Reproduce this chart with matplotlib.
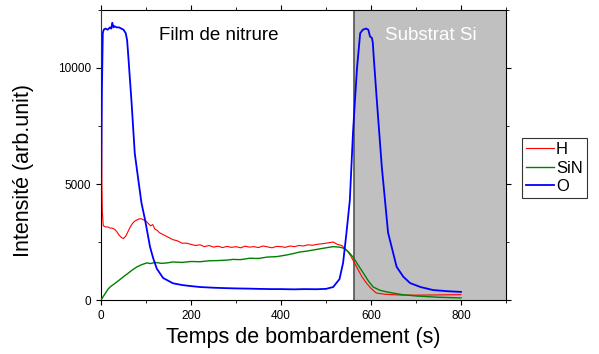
import matplotlib
matplotlib.use("Agg")
import matplotlib.pyplot as plt
from matplotlib.ticker import MultipleLocator

plt.rcParams["font.family"] = ["Liberation Sans", "DejaVu Sans"]

# O signal (blue)
t_o = [0, 2, 4, 6, 10, 15, 20, 23, 25, 28, 30, 35, 40, 45, 50, 55, 58, 60, 64, 68, 75, 83, 90,
       98, 109, 116, 124, 138, 160, 182, 200, 220, 250, 280, 300, 330, 350, 380, 400, 430,
       450, 480, 500, 516, 530, 538, 545, 553, 560, 565, 569, 576, 582, 589, 594, 598, 602,
       604, 606, 613, 624, 638, 657, 672, 687, 710, 738, 770, 800]
i_o = [4300, 9000, 11500, 11650, 11700, 11650, 11750, 11700, 11950, 11750, 11800, 11750, 11750,
       11700, 11650, 11500, 11200, 10700, 9600, 8500, 6330, 5170, 4180, 3450, 2290, 1800, 1350,
       950, 720, 640, 600, 560, 530, 510, 500, 490, 480, 470, 470, 460, 470, 465, 480, 560,
       900, 1600, 2800, 4300, 7200, 8800, 10000, 11500, 11650, 11700, 11650, 11350, 11300,
       11100, 10500, 8600, 5750, 2900, 1430, 1000, 730, 560, 430, 380, 350]

# H signal (red)
t_h = [0, 1, 2, 3, 5, 10, 15, 20, 25, 30, 35, 40, 45, 50, 55, 60, 65, 70, 75, 80, 85, 90, 95,
       100, 105, 110, 115, 120, 125, 130, 140, 150, 160, 170, 180, 190, 200, 210, 220, 230,
       240, 250, 260, 270, 280, 290, 300, 310, 320, 330, 340, 350, 360, 370, 380, 390, 400,
       410, 420, 430, 440, 450, 460, 470, 480, 490, 500, 510, 516, 525, 535, 546, 555, 568,
       580, 590, 600, 612, 630, 664, 700, 750, 800]
i_h = [13000, 9000, 5000, 3800, 3200, 3150, 3150, 3100, 3100, 3050, 2950, 2800, 2700, 2650,
       2750, 2950, 3150, 3300, 3400, 3450, 3500, 3500, 3450, 3400, 3300, 3200, 3250, 3050,
       3000, 2900, 2800, 2700, 2600, 2550, 2450, 2450, 2400, 2350, 2380, 2300, 2350, 2280,
       2320, 2260, 2310, 2270, 2300, 2250, 2320, 2280, 2300, 2260, 2330, 2290, 2250, 2310,
       2300, 2270, 2330, 2300, 2350, 2330, 2380, 2360, 2400, 2420, 2450, 2480, 2500, 2400,
       2350, 2150, 1900, 1430, 1000, 730, 500, 300, 250, 215, 210, 220, 230]

# SiN signal (green)
t_s = [0, 5, 10, 15, 20, 30, 40, 49, 60, 70, 80, 90, 102, 110, 120, 135, 147, 160, 180, 200,
       220, 240, 260, 280, 293, 310, 330, 350, 369, 390, 400, 415, 427, 442, 455, 470, 485,
       500, 516, 530, 538, 550, 560, 570, 583, 595, 605, 620, 635, 649, 670, 702, 750, 800]
i_s = [0, 150, 300, 450, 560, 700, 850, 990, 1150, 1300, 1430, 1520, 1600, 1570, 1620, 1580,
       1600, 1640, 1620, 1660, 1650, 1690, 1700, 1720, 1750, 1740, 1800, 1790, 1850, 1870,
       1900, 1950, 2000, 2070, 2100, 2150, 2200, 2250, 2300, 2280, 2240, 2080, 1850, 1550,
       1160, 800, 560, 420, 350, 300, 230, 170, 120, 90]

fig = plt.figure(figsize=(5.99, 3.54), dpi=100)
ax = fig.add_axes([0.1686, 0.1525, 0.6761, 0.8193])

ax.axvspan(562, 900, color="#c0c0c0", zorder=0)
ax.axvline(562, color="#555555", lw=1.2, zorder=1)

ax.plot(t_h, i_h, color="red", lw=0.8, label="H", zorder=3)
ax.plot(t_s, i_s, color="green", lw=1.0, label="SiN", zorder=3)
ax.plot(t_o, i_o, color="blue", lw=1.3, label="O", zorder=4)

ax.set_xlim(0, 900)
ax.set_ylim(0, 12500)
ax.xaxis.set_major_locator(MultipleLocator(200))
ax.xaxis.set_minor_locator(MultipleLocator(100))
ax.yaxis.set_major_locator(MultipleLocator(5000))
ax.yaxis.set_minor_locator(MultipleLocator(2500))
ax.tick_params(which="both", direction="out", top=True, right=True, labelsize=8.5)
ax.tick_params(which="major", length=3.5)
ax.tick_params(which="minor", length=2)
ax.set_xlabel("Temps de bombardement (s)", fontsize=15.5, labelpad=4)
ax.set_ylabel("Intensité (arb.unit)", fontsize=15.5)
ax.yaxis.set_label_coords(-0.165, 0.448)

ax.text(262, 11380, "Film de nitrure", fontsize=13.5, ha="center", va="center")
ax.text(732, 11380, "Substrat Si", fontsize=13.5, ha="center", va="center", color="white")

leg = ax.legend(loc="center left", bbox_to_anchor=(1.039, 0.455), fontsize=12, frameon=True,
                fancybox=False, edgecolor="black", handlelength=1.7, handletextpad=0.1,
                labelspacing=0.2, borderpad=0.25, borderaxespad=0)
leg.get_frame().set_linewidth(0.8)

fig.savefig("out.png", dpi=100)
